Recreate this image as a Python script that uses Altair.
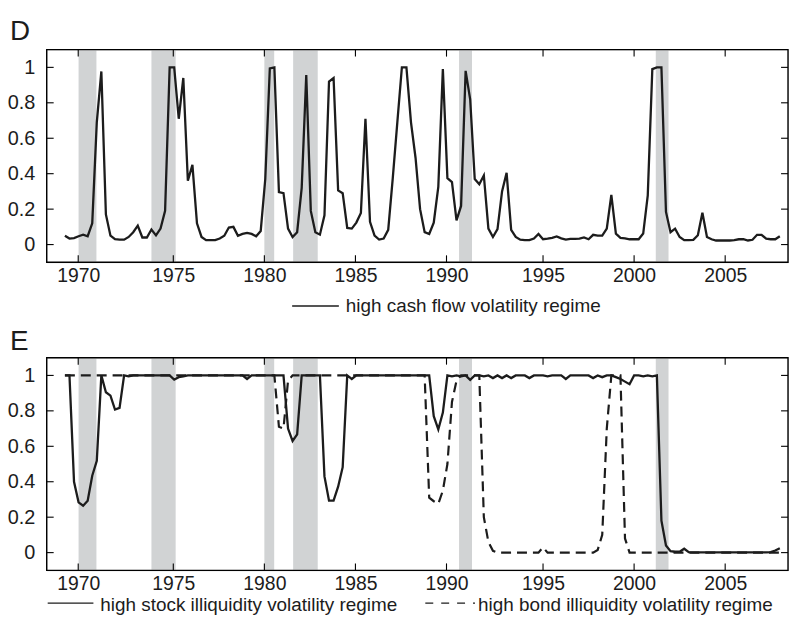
import altair as alt
import pandas as pd

# ---------------- data (quarterly, first observation 1969.25) ----------------
START = 1969.25

# Panel D: probability of high cash flow volatility regime
D_CASHFLOW = [
    0.050, 0.034, 0.037, 0.047,
    0.056, 0.047, 0.120, 0.690,
    0.977, 0.170, 0.050, 0.030,
    0.028, 0.028, 0.043, 0.070,
    0.107, 0.040, 0.040, 0.085,
    0.052, 0.090, 0.190, 1.000,
    1.000, 0.710, 0.940, 0.360,
    0.450, 0.120, 0.043, 0.025,
    0.025, 0.025, 0.034, 0.050,
    0.096, 0.100, 0.050, 0.060,
    0.066, 0.060, 0.047, 0.077,
    0.370, 0.994, 1.000, 0.296,
    0.290, 0.090, 0.043, 0.070,
    0.320, 0.957, 0.190, 0.070,
    0.056, 0.165, 0.920, 0.940,
    0.306, 0.290, 0.094, 0.090,
    0.124, 0.178, 0.710, 0.128,
    0.050, 0.028, 0.034, 0.083,
    0.375, 0.690, 1.000, 1.000,
    0.690, 0.490, 0.200, 0.070,
    0.060, 0.124, 0.325, 0.990,
    0.375, 0.353, 0.137, 0.218,
    0.980, 0.820, 0.370, 0.340,
    0.390, 0.090, 0.043, 0.087,
    0.300, 0.405, 0.083, 0.043,
    0.028, 0.025, 0.025, 0.034,
    0.060, 0.030, 0.033, 0.038,
    0.046, 0.035, 0.028, 0.032,
    0.032, 0.033, 0.040, 0.030,
    0.055, 0.050, 0.050, 0.090,
    0.280, 0.062, 0.038, 0.035,
    0.030, 0.030, 0.030, 0.062,
    0.278, 0.990, 1.000, 1.000,
    0.184, 0.070, 0.090, 0.043,
    0.025, 0.025, 0.027, 0.053,
    0.180, 0.043, 0.030, 0.023,
    0.023, 0.023, 0.023, 0.025,
    0.030, 0.030, 0.023, 0.027,
    0.055, 0.055, 0.033, 0.030,
    0.030, 0.047,
]

# Panel E: high stock illiquidity volatility regime (solid)
E_STOCK = [
    1.000, 1.000, 0.400, 0.284,
    0.265, 0.293, 0.434, 0.518,
    1.000, 0.905, 0.886, 0.807,
    0.817, 1.000, 0.995, 1.000,
    1.000, 1.000, 1.000, 1.000,
    1.000, 1.000, 1.000, 1.000,
    0.976, 0.990, 0.995, 1.000,
    1.000, 1.000, 1.000, 1.000,
    1.000, 1.000, 1.000, 1.000,
    1.000, 1.000, 1.000, 1.000,
    0.980, 1.000, 1.000, 1.000,
    1.000, 1.000, 1.000, 1.000,
    1.000, 0.700, 0.630, 0.667,
    1.000, 1.000, 1.000, 1.000,
    1.000, 0.430, 0.293, 0.293,
    0.372, 0.482, 1.000, 0.980,
    1.000, 1.000, 1.000, 1.000,
    1.000, 1.000, 1.000, 1.000,
    1.000, 1.000, 1.000, 1.000,
    1.000, 1.000, 1.000, 1.000,
    1.000, 0.770, 0.695, 0.790,
    1.000, 0.995, 1.000, 0.995,
    1.000, 0.975, 1.000, 1.000,
    0.995, 1.000, 0.985, 1.000,
    0.985, 1.000, 0.985, 1.000,
    1.000, 1.000, 0.985, 1.000,
    1.000, 1.000, 0.995, 1.000,
    1.000, 1.000, 0.980, 1.000,
    1.000, 1.000, 1.000, 1.000,
    0.985, 1.000, 0.990, 1.000,
    1.000, 0.990, 0.980, 0.965,
    0.950, 1.000, 1.000, 0.995,
    1.000, 0.995, 1.000, 0.180,
    0.040, 0.008, 0.005, 0.005,
    0.022, 0.003, 0.002, 0.002,
    0.002, 0.002, 0.002, 0.002,
    0.002, 0.002, 0.002, 0.002,
    0.002, 0.002, 0.002, 0.002,
    0.002, 0.002, 0.002, 0.003,
    0.012, 0.025,
]

# Panel E: high bond illiquidity volatility regime (dashed)
E_BOND = [
    1.000, 1.000, 1.000, 1.000,
    1.000, 1.000, 1.000, 1.000,
    1.000, 1.000, 1.000, 1.000,
    1.000, 1.000, 1.000, 1.000,
    1.000, 1.000, 1.000, 1.000,
    1.000, 1.000, 1.000, 1.000,
    1.000, 1.000, 1.000, 1.000,
    1.000, 1.000, 1.000, 1.000,
    1.000, 1.000, 1.000, 1.000,
    1.000, 1.000, 1.000, 1.000,
    1.000, 1.000, 1.000, 1.000,
    1.000, 1.000, 1.000, 0.710,
    0.700, 0.970, 1.000, 1.000,
    1.000, 1.000, 1.000, 1.000,
    1.000, 1.000, 1.000, 1.000,
    1.000, 1.000, 1.000, 1.000,
    1.000, 1.000, 1.000, 1.000,
    1.000, 1.000, 1.000, 1.000,
    1.000, 1.000, 1.000, 1.000,
    1.000, 1.000, 1.000, 1.000,
    0.310, 0.290, 0.275, 0.350,
    0.500, 0.850, 0.970, 1.000,
    1.000, 1.000, 1.000, 1.000,
    0.200, 0.060, 0.010, 0.000,
    0.000, 0.000, 0.000, 0.000,
    0.000, 0.000, 0.000, 0.000,
    0.000, 0.030, 0.000, 0.000,
    0.000, 0.000, 0.000, 0.000,
    0.000, 0.000, 0.000, 0.000,
    0.000, 0.015, 0.100, 0.700,
    1.000, 1.000, 1.000, 0.080,
    0.000, 0.000, 0.000, 0.000,
    0.000, 0.000, 0.000, 0.000,
    0.000, 0.000, 0.000, 0.000,
    0.000, 0.000, 0.000, 0.000,
    0.000, 0.000, 0.000, 0.000,
    0.000, 0.000, 0.000, 0.000,
    0.000, 0.000, 0.000, 0.000,
    0.000, 0.000, 0.000, 0.000,
    0.000, 0.000,
]

QUARTERS = [START + 0.25 * i for i in range(len(D_CASHFLOW))]

# shaded recession periods (same time units as QUARTERS)
REC_START = [1970.00, 1974.00, 1980.20, 1981.78, 1990.89, 2001.69]
REC_END = [1970.98, 1975.33, 1980.74, 1983.13, 1991.60, 2002.39]

# axis tick positions (in the figure's time units) and their labels
X_TICK_POS = [1969.98, 1975.2, 1980.2, 1985.2, 1990.2, 1995.5, 2000.5, 2005.5]
Y_TICKS = [0, 0.2, 0.4, 0.6, 0.8, 1]

LEGEND_D = ["high cash flow volatility regime"]
LEGEND_E = ["high stock illiquidity volatility regime",
            "high bond illiquidity volatility regime"]
PANEL_LABELS = ["D", "E"]

# ---------------- styling ----------------
W, H = 746, 214
FONT = "Liberation Sans"
INK = "#1c1c1c"
SHADE = "#d1d3d4"
XDOM = [1968.25, 2008.95]
YDOM = [-0.1, 1.1]

xscale = alt.Scale(domain=XDOM, nice=False, zero=False)
yscale = alt.Scale(domain=YDOM, nice=False, zero=False)

xaxis = alt.Axis(values=X_TICK_POS, labelExpr="format(round(datum.value/5)*5, 'd')",
                 ticks=False, domain=False, grid=False, title=None,
                 labelFont=FONT, labelFontSize=19.5, labelColor=INK,
                 labelPadding=4, labelFlush=False, labelOverlap=False)
yaxis = alt.Axis(values=Y_TICKS, format="~g", ticks=False, domain=False, grid=False,
                 title=None, labelFont=FONT, labelFontSize=20, labelColor=INK,
                 labelPadding=12, labelFlush=False, labelOverlap=False)

rec_df = pd.DataFrame({"start": REC_START, "end": REC_END})
xt_df = pd.DataFrame({"pos": X_TICK_POS})
yt_df = pd.DataFrame({"val": Y_TICKS})
one = pd.DataFrame({"k": [0]})


def base_layers():
    shade = alt.Chart(rec_df).mark_rect(color=SHADE).encode(
        x=alt.X("start:Q", scale=xscale, axis=xaxis),
        x2="end:Q",
        y=alt.value(0.7), y2=alt.value(H - 0.7),
    )
    return shade


def frame_layers():
    xt_bot = alt.Chart(xt_df).mark_rule(color="black", strokeWidth=1.1).encode(
        x=alt.X("pos:Q", scale=xscale, axis=xaxis), y=alt.value(H), y2=alt.value(H - 7))
    xt_top = alt.Chart(xt_df).mark_rule(color="black", strokeWidth=1.1).encode(
        x=alt.X("pos:Q", scale=xscale, axis=xaxis), y=alt.value(0), y2=alt.value(7))
    yt_l = alt.Chart(yt_df).mark_rule(color="black", strokeWidth=1.1).encode(
        y=alt.Y("val:Q", scale=yscale, axis=yaxis), x=alt.value(0), x2=alt.value(7))
    yt_r = alt.Chart(yt_df).mark_rule(color="black", strokeWidth=1.1).encode(
        y=alt.Y("val:Q", scale=yscale, axis=yaxis), x=alt.value(W - 7), x2=alt.value(W))
    frame = alt.Chart(one).mark_rect(fillOpacity=0, stroke="black", strokeWidth=1.4).encode(
        x=alt.value(0), x2=alt.value(W), y=alt.value(0), y2=alt.value(H))
    return [xt_bot, xt_top, yt_l, yt_r, frame]


def letter(txt, dy):
    return alt.Chart(one).mark_text(
        text=txt, font=FONT, fontSize=28, color=INK, align="left", baseline="alphabetic"
    ).encode(x=alt.value(-37), y=alt.value(dy))


def legend_item(label, x0, x1, tx, ly, ty, dash=None):
    kw = dict(color=INK, strokeWidth=1.3)
    if dash:
        kw["strokeDash"] = dash
    rule = alt.Chart(one).mark_rule(**kw).encode(
        x=alt.value(x0), x2=alt.value(x1), y=alt.value(ly))
    text = alt.Chart(one).mark_text(
        text=label, font=FONT, fontSize=19, color=INK, align="left", baseline="alphabetic"
    ).encode(x=alt.value(tx), y=alt.value(ty))
    return [rule, text]


# ---------------- panel D ----------------
d_df = pd.DataFrame({"t": QUARTERS, "v": D_CASHFLOW})
d_line = alt.Chart(d_df).mark_line(color=INK, strokeWidth=2.3, strokeJoin="miter").encode(
    x=alt.X("t:Q", scale=xscale, axis=xaxis),
    y=alt.Y("v:Q", scale=yscale, axis=yaxis),
)
panel_d = alt.layer(
    base_layers(), d_line, *frame_layers(), letter(PANEL_LABELS[0], -10),
    *legend_item(LEGEND_D[0], 247, 294, 301, 258, 264),
).properties(width=W, height=H)

# ---------------- panel E ----------------
e_df = pd.DataFrame({"t": QUARTERS, "stock": E_STOCK, "bond": E_BOND})
e_bond = alt.Chart(e_df).mark_line(color=INK, strokeWidth=2.2, strokeDash=[10, 6]).encode(
    x=alt.X("t:Q", scale=xscale, axis=xaxis),
    y=alt.Y("bond:Q", scale=yscale, axis=yaxis),
)
e_stock = alt.Chart(e_df).mark_line(color=INK, strokeWidth=2.3, strokeJoin="miter").encode(
    x=alt.X("t:Q", scale=xscale, axis=xaxis),
    y=alt.Y("stock:Q", scale=yscale, axis=yaxis),
)
panel_e = alt.layer(
    base_layers(), e_bond, e_stock, *frame_layers(), letter(PANEL_LABELS[1], -8),
    *legend_item(LEGEND_E[0], 1, 47, 54, 247, 255),
    *legend_item(LEGEND_E[1], 381, 431, 434, 247, 255, dash=[8, 8]),
).properties(width=W, height=H)

chart = alt.vconcat(panel_d, panel_e, spacing=10).properties(
    padding={"left": 6, "top": 15, "right": 0, "bottom": 0}
).configure_view(stroke="transparent").configure(background="white")

chart.save("out.html", embed_options={"renderer": "svg", "actions": False})
